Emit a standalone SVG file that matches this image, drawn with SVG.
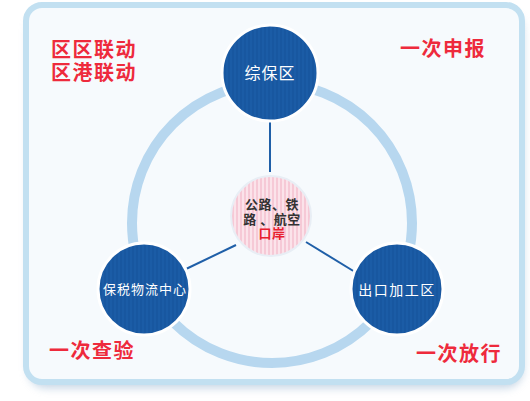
<svg xmlns="http://www.w3.org/2000/svg" width="530" height="401" viewBox="0 0 530 401">
<defs>
<pattern id="stripes" width="4" height="4" patternUnits="userSpaceOnUse">
<rect width="4" height="4" fill="#fbe3ea"/>
<rect width="2" height="4" fill="#f6c9d6"/>
</pattern>
<pattern id="bstripes" width="4" height="4" patternUnits="userSpaceOnUse">
<rect width="4" height="4" fill="#1b5ca6"/>
<rect width="2" height="4" fill="#1857a0"/>
</pattern>
<filter id="sh" x="-10%" y="-10%" width="120%" height="125%">
<feGaussianBlur stdDeviation="4"/>
</filter>
</defs>
<style>
.red{font-family:"Noto Sans CJK SC","Liberation Sans",sans-serif;font-size:20px;font-weight:bold;fill:#ee2a3c;letter-spacing:1.5px}
.node circle{fill:url(#bstripes);stroke:#ffffff;stroke-width:3}
.nt{font-family:"Noto Sans CJK SC","Liberation Sans",sans-serif;fill:#ffffff;text-anchor:middle}
.ct{font-family:"Noto Sans CJK SC","Liberation Sans",sans-serif;font-size:13px;font-weight:bold;fill:#333333;text-anchor:middle;letter-spacing:0.5px}
.conn line{stroke:#1f5fa8;stroke-width:2}
</style>
<rect x="0" y="0" width="530" height="401" fill="#ffffff"/>
<rect x="28" y="12" width="495" height="376" rx="18" fill="#9fb9d3" opacity="0.6" filter="url(#sh)"/>
<rect x="26" y="5" width="496" height="377" rx="16" fill="#f6fafd" stroke="#c2e0f1" stroke-width="6"/>
<circle cx="272" cy="223" r="140" fill="none" stroke="#b7d7ef" stroke-width="10"/>
<g class="conn">
<line x1="270" y1="121" x2="270" y2="172"/>
<line x1="236" y1="245" x2="186" y2="269"/>
<line x1="306" y1="242" x2="355" y2="272"/>
</g>
<g id="center">
<circle cx="271" cy="216" r="40" fill="url(#stripes)" stroke="#e8eef5" stroke-width="2"/>
<text class="ct" x="272" y="209">公路、铁<tspan x="272" y="224">路 、航空</tspan><tspan x="272" y="238" style="fill:#e8202f">口岸</tspan></text>
</g>
<g id="zongbaoqu" class="node">
<circle cx="270" cy="73" r="48"/>
<text class="nt" x="270" y="79" font-size="16" letter-spacing="1">综保区</text>
</g>
<g id="baoshui" class="node">
<circle cx="144" cy="289" r="46"/>
<text class="nt" x="145" y="294" font-size="13" letter-spacing="1">保税物流中心</text>
</g>
<g id="chukou" class="node">
<circle cx="397" cy="289" r="46"/>
<text class="nt" x="397" y="295" font-size="14" letter-spacing="1.5">出口加工区</text>
</g>
<text class="red" x="51" y="57">区区联动<tspan x="51" y="80">区港联动</tspan></text>
<text class="red" x="400" y="56">一次申报</text>
<text class="red" x="49" y="358">一次查验</text>
<text class="red" x="416" y="361">一次放行</text>
</svg>
